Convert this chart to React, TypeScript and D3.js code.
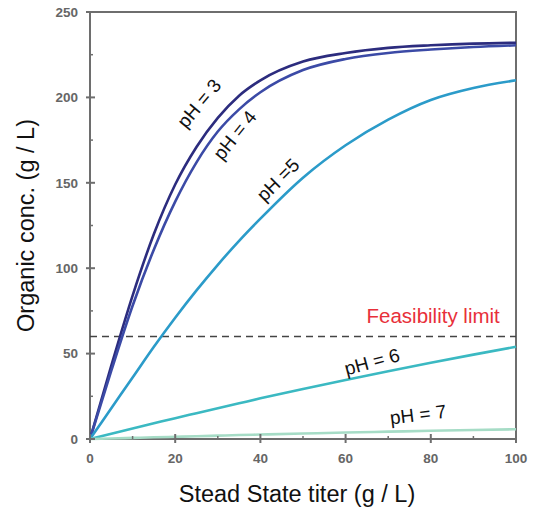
import React from "react";
import * as d3 from "d3";

// titer (g/L) sample points and organic conc. (g/L) per pH curve
const titer = [0, 5, 10, 15, 20, 25, 30, 35, 40, 50, 60, 70, 80, 90, 100];
const ph3 = [0, 43, 84, 120, 149, 171, 188, 201, 210, 221, 226, 229, 230.5, 231.5, 232];
const ph4 = [0, 40, 78, 111, 139, 162, 180, 193, 203, 216, 222.5, 226, 228, 229.5, 230.5];
const ph5 = [0, 18, 36, 54, 71, 87, 102, 116, 129, 153, 172, 187, 198.5, 205.5, 210];
const ph6 = [0, 3.1, 6.2, 9.2, 12.2, 15.1, 18, 20.9, 23.8, 29.3, 34.6, 39.7, 44.6, 49.4, 54];
const ph7 = [0, 0.3, 0.65, 1, 1.3, 1.6, 1.95, 2.3, 2.6, 3.2, 3.8, 4.3, 4.8, 5.3, 5.7];

const feasibility = 60;

const series = [
  { name: "pH = 3", values: ph3, color: "#2c2c7e" },
  { name: "pH = 4", values: ph4, color: "#3b4aa6" },
  { name: "pH =5", values: ph5, color: "#2b9bc9" },
  { name: "pH = 6", values: ph6, color: "#3bb9c2" },
  { name: "pH = 7", values: ph7, color: "#a6dcc6" },
];

// label anchor (data coords) and rotation for each curve label
const labelPos = [
  { x: 26.8, y: 194, rot: -50 },
  { x: 35.2, y: 175.5, rot: -51 },
  { x: 45.2, y: 149, rot: -45 },
  { x: 66.6, y: 41.5, rot: -15 },
  { x: 77.2, y: 10.5, rot: -7 },
];

const xTicks = [0, 20, 40, 60, 80, 100];
const xMinor = [10, 30, 50, 70, 90];
const yTicks = [0, 50, 100, 150, 200, 250];
const yMinor = [25, 75, 125, 175, 225];

export default function App() {
  const x = d3.scaleLinear().domain([0, 100]).range([90, 516]);
  const y = d3.scaleLinear().domain([0, 250]).range([439, 12]);
  const axisColor = "#6e6e6e";

  const line = (vals: number[]) =>
    d3
      .line<number>()
      .x((_, i) => x(titer[i]))
      .y((d) => y(d))
      .curve(d3.curveMonotoneX)(vals) || "";

  return (
    <svg
      width={536}
      height={512}
      style={{ position: "absolute", left: 0, top: 0, background: "#fff" }}
      fontFamily="Liberation Sans, Arial, sans-serif"
    >
      {/* frame */}
      <rect x={x(0)} y={y(250)} width={x(100) - x(0)} height={y(0) - y(250)} fill="none" stroke={axisColor} strokeWidth={2} />

      {/* feasibility line */}
      <line x1={x(0)} x2={x(100)} y1={y(feasibility)} y2={y(feasibility)} stroke="#444" strokeWidth={1.6} strokeDasharray="7,5" />
      <text x={x(96.2)} y={y(feasibility) - 14} textAnchor="end" fill="#e8303a" fontSize={20.5}>
        Feasibility limit
      </text>

      {/* curves */}
      {series.map((s) => (
        <path key={s.name} d={line(s.values)} fill="none" stroke={s.color} strokeWidth={2.6} />
      ))}

      {/* curve labels */}
      {series.map((s, i) => (
        <text
          key={"l" + s.name}
          transform={`translate(${x(labelPos[i].x)},${y(labelPos[i].y)}) rotate(${labelPos[i].rot})`}
          textAnchor="middle"
          fontSize={19}
          fill="#111"
        >
          {s.name}
        </text>
      ))}

      {/* y ticks */}
      {yTicks.map((t) => (
        <g key={"y" + t}>
          <line x1={x(0) - 4} x2={x(0) + 5} y1={y(t)} y2={y(t)} stroke={axisColor} strokeWidth={2} />
          <text x={x(0) - 12} y={y(t)} dy="0.35em" textAnchor="end" fontSize={13.5} fontWeight="bold" fill="#666">
            {t}
          </text>
        </g>
      ))}
      {yMinor.map((t) => (
        <line key={"ym" + t} x1={x(0)} x2={x(0) + 3} y1={y(t)} y2={y(t)} stroke={axisColor} strokeWidth={1.5} />
      ))}

      {/* x ticks */}
      {xTicks.map((t) => (
        <g key={"x" + t}>
          <line x1={x(t)} x2={x(t)} y1={y(0) - 5} y2={y(0) + 4} stroke={axisColor} strokeWidth={2} />
          <text x={x(t)} y={y(0) + 24} textAnchor="middle" fontSize={13.5} fontWeight="bold" fill="#666">
            {t}
          </text>
        </g>
      ))}
      {xMinor.map((t) => (
        <line key={"xm" + t} x1={x(t)} x2={x(t)} y1={y(0)} y2={y(0) - 3} stroke={axisColor} strokeWidth={1.5} />
      ))}

      {/* axis titles */}
      <text x={297} y={502} textAnchor="middle" fontSize={23.5} fill="#111">
        Stead State titer (g / L)
      </text>
      <text transform="translate(34,225.5) rotate(-90)" textAnchor="middle" fontSize={23.5} fill="#111">
        Organic conc. (g / L)
      </text>
    </svg>
  );
}
